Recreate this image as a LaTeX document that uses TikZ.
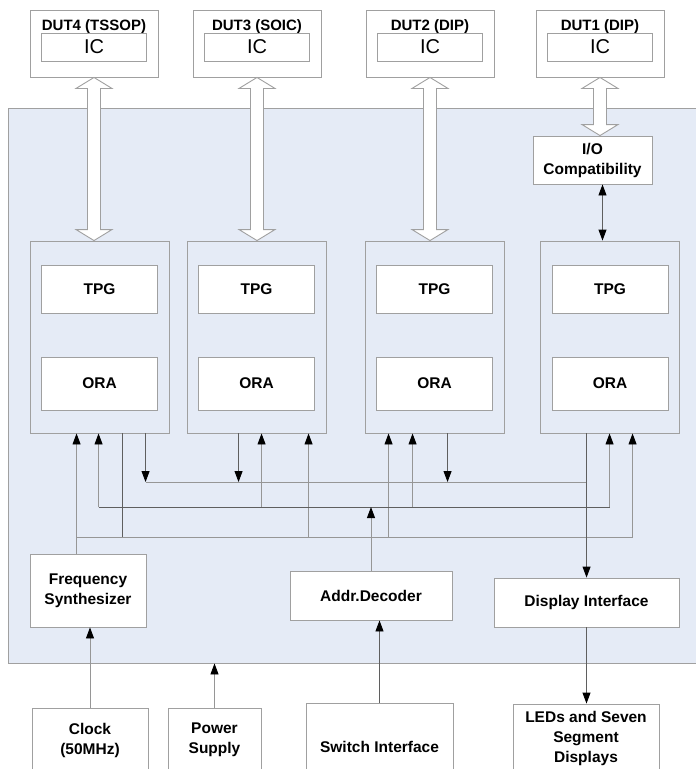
\documentclass[tikz,border=0pt]{standalone}
\usepackage{fontspec}
\setmainfont{Liberation Sans}
\usetikzlibrary{arrows.meta,calc}

\definecolor{boardblue}{RGB}{229,235,246}
\definecolor{edgegray}{RGB}{160,160,160}
\definecolor{wiregray}{RGB}{150,150,150}
\definecolor{wiredark}{RGB}{95,95,95}

\tikzset{
 tri/.tip={Triangle[length=11pt,width=8pt,color=black]},
 blk/.style={draw=edgegray, fill=white, line width=0.9pt, inner sep=0pt, align=center,
  font=\bfseries\fontsize{15.5}{20}\selectfont},
 unit/.style={draw=edgegray, line width=0.9pt, minimum width=139, minimum height=192},
 dutbox/.style={draw=edgegray, fill=white, line width=0.9pt, minimum width=128, minimum height=67},
 icbox/.style={draw=edgegray, fill=white, line width=0.9pt, minimum width=105, minimum height=28,
  inner sep=0pt, font=\fontsize{20}{22}\selectfont},
 dutname/.style={inner sep=0pt, font=\bfseries\fontsize{15}{17}\selectfont},
 wire/.style={draw=wiregray, line width=0.9pt},
 wiredk/.style={draw=wiredark, line width=0.9pt},
 fatarr/.style={draw=edgegray, fill=white, line width=0.9pt}
}

% wide double arrow between #1 (top) and #2 (bottom)
\newcommand{\fatarrow}[2]{%
 \draw[fatarr] let \p1=(#1), \p2=(#2) in
  (\x1,\y1) -- (\x1+18,\y1-11) -- (\x1+6.5,\y1-11) -- (\x1+6.5,\y2+11) -- (\x1+18,\y2+11)
  -- (\x1,\y2) -- (\x1-18,\y2+11) -- (\x1-6.5,\y2+11) -- (\x1-6.5,\y1-11) -- (\x1-18,\y1-11) -- cycle;}

\begin{document}
\begin{tikzpicture}[x=1pt,y=-1pt]
 \useasboundingbox (0,0) rectangle (696,769);
 \clip (0,0) rectangle (696,769);

 \node[draw=edgegray, fill=boardblue, line width=0.9pt, minimum width=692, minimum height=555] (board) at (354,385.5) {}; % board

 % DUTs
 \foreach \n/\x/\t in {4/94/DUT4 (TSSOP), 3/257/DUT3 (SOIC), 2/430/DUT2 (DIP), 1/600/DUT1 (DIP)} {
  \node[dutbox] (dut\n) at (\x,43.5) {};
  \node[dutname] (dut\n t) at (\x,27) {\t};
  \node[icbox] (ic\n) at (\x,47) {IC};
 }

 % TPG/ORA units
 \foreach \n/\x in {1/99.5, 2/256.5, 3/434.5, 4/610} {
  \node[unit] (c\n) at (\x,337) {};
  \node[blk, minimum width=116, minimum height=48] (tpg\n) at (\x,289) {TPG};
  \node[blk, minimum width=116, minimum height=53] (ora\n) at (\x,383.5) {ORA};
 }

 \node[blk, minimum width=119, minimum height=48] (io) at (592.5,160) {I/O\\Compatibility};
 \node[blk, minimum width=116, minimum height=73] (freq) at (88,590.5) {Frequency\\Synthesizer};
 \node[blk, minimum width=162, minimum height=49] (addr) at (371,595.5) {Addr.Decoder};
 \node[blk, minimum width=185, minimum height=49] (disp) at (586.5,602.5) {Display Interface};

 \node[blk, minimum width=116, minimum height=64] (clk) at (90,740) {Clock\\(50MHz)};
 \node[blk, minimum width=93, minimum height=64] (pwr) at (214.5,740) {Power\\Supply};
 \node[blk, minimum width=147, minimum height=87] (sw) at (379.5,746.5) {Switch Interface};
 \node[blk, minimum width=146, minimum height=68] (leds) at (586,738) {LEDs and Seven\\Segment\\Displays};

 % wide arrows
 \fatarrow{dut4.south}{dut4.south |- c1.north}
 \fatarrow{dut3.south}{dut3.south |- c2.north}
 \fatarrow{dut2.south}{dut2.south |- c3.north}
 \fatarrow{dut1.south}{dut1.south |- io.north}
 \draw[wiredk, tri-tri] ([xshift=10]io.south) -- ([xshift=10]io.south |- c4.north);

 % ports under the units
 \coordinate (f1) at ([xshift=47]c1.south west);
 \coordinate (a1) at ([xshift=69]c1.south west);
 \coordinate (o1) at ([xshift=93]c1.south west);
 \coordinate (d1) at ([xshift=116]c1.south west);
 \coordinate (d2) at ([xshift=52]c2.south west);
 \coordinate (a2) at ([xshift=75]c2.south west);
 \coordinate (f2) at ([xshift=122]c2.south west);
 \coordinate (f3) at ([xshift=24]c3.south west);
 \coordinate (a3) at ([xshift=48]c3.south west);
 \coordinate (d3) at ([xshift=83]c3.south west);
 \coordinate (o4) at ([xshift=46.5]c4.south west);
 \coordinate (a4) at ([xshift=69.5]c4.south west);
 \coordinate (f4) at ([xshift=92.5]c4.south west);

 \coordinate (busD) at (0,482);
 \coordinate (busA) at (0,507);
 \coordinate (busF) at (0,537);

 % clock bus
 \draw[wire, -tri] (freq.north -| f1) -- (f1);
 \draw[wire] (f1 |- busF) -- (f4 |- busF);
 \foreach \p in {f2,f3,f4} \draw[wire, -tri] (\p |- busF) -- (\p);
 \draw[wiredk] (o1) -- (o1 |- busF);

 % address bus
 \draw[wiredk] (a1 |- busA) -- (a4 |- busA);
 \foreach \p in {a1,a2,a3,a4} \draw[wire, -tri] (\p |- busA) -- (\p);
 \draw[wire, -tri] (addr.north) -- (addr.north |- busA);

 % data bus
 \draw[wire] (d1 |- busD) -- (o4 |- busD);
 \foreach \p in {d1,d2,d3} \draw[wiredk, -tri] (\p) -- (\p |- busD);
 \draw[wiredk, -tri] (o4) -- (o4 |- disp.north);

 % outside
 \draw[wiredk, -tri] (disp.south) -- (disp.south |- leds.north);
 \draw[wire, -tri] (clk.north) -- (clk.north |- freq.south);
 \draw[wire, -tri] (pwr.north) -- (pwr.north |- board.south);
 \draw[wiredk, -tri] (sw.north) -- (sw.north |- addr.south);
\end{tikzpicture}
\end{document}
